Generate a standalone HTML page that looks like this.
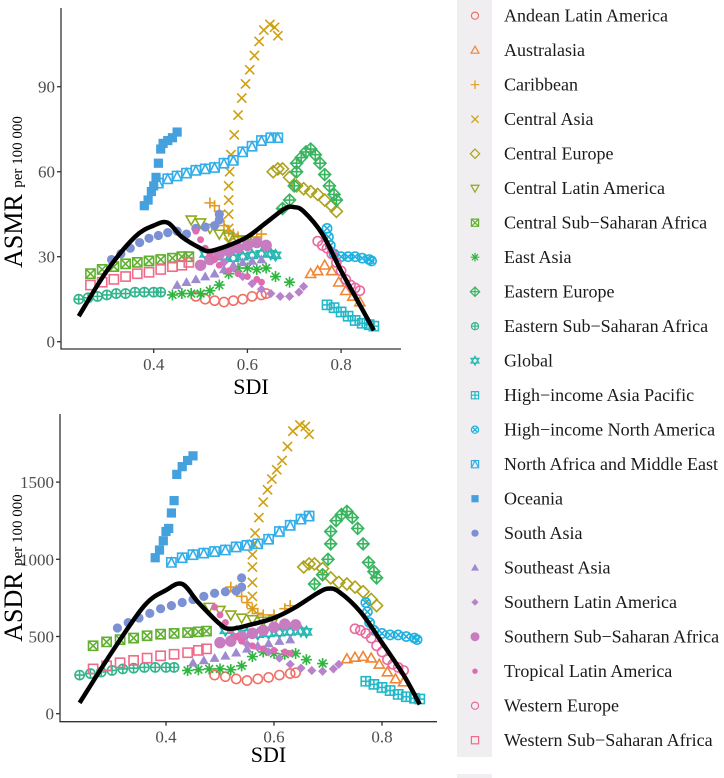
<!DOCTYPE html>
<html><head><meta charset="utf-8">
<style>
html,body{margin:0;padding:0;background:#fff;}
svg{display:block;font-family:"Liberation Serif",serif;}
</style></head>
<body>
<svg id="chart" width="724" height="778" viewBox="0 0 724 778" xmlns="http://www.w3.org/2000/svg"></svg>
<script>
const regions = ["Andean Latin America","Australasia","Caribbean","Central Asia","Central Europe","Central Latin America","Central Sub\u2212Saharan Africa","East Asia","Eastern Europe","Eastern Sub\u2212Saharan Africa","Global","High\u2212income Asia Pacific","High\u2212income North America","North Africa and Middle East","Oceania","South Asia","Southeast Asia","Southern Latin America","Southern Sub\u2212Saharan Africa","Tropical Latin America","Western Europe","Western Sub\u2212Saharan Africa"];
const colors = ["#F07068","#F08535","#E09B22","#CFA012","#ADA21A","#8FAA1E","#62B031","#2FB540","#39B560","#30B58C","#28B8B2","#22B8C8","#1FB2E0","#33AEE8","#45A0DE","#7C90D4","#9E8ACF","#B983CB","#C87CC0","#DF6BB0","#EA69A0","#EE6C8A"];
const shapes = [1,2,3,4,5,6,7,8,9,10,11,12,13,14,15,16,17,18,19,20,21,22];

const sdi = [
 [0.49,0.51,0.53,0.55,0.57,0.59,0.61,0.63,0.64],
 [0.735,0.75,0.765,0.78,0.795,0.81,0.825,0.84],
 [0.52,0.53,0.54,0.55,0.56,0.57,0.58,0.6,0.62,0.63],
 [0.56,0.56,0.56,0.56,0.56,0.562,0.565,0.572,0.58,0.588,0.596,0.605,0.615,0.625,0.635,0.648,0.658,0.665],
 [0.655,0.665,0.675,0.69,0.705,0.72,0.735,0.75,0.765,0.78,0.79],
 [0.48,0.5,0.52,0.54,0.56,0.58,0.6],
 [0.265,0.29,0.315,0.34,0.365,0.39,0.415,0.44,0.46,0.475],
 [0.44,0.46,0.48,0.5,0.52,0.54,0.56,0.58,0.6,0.62,0.64,0.66,0.69],
 [0.675,0.69,0.7,0.705,0.705,0.715,0.725,0.735,0.745,0.755,0.765,0.775,0.785,0.79],
 [0.24,0.26,0.28,0.3,0.32,0.34,0.36,0.38,0.4,0.415],
 [0.51,0.53,0.55,0.57,0.59,0.61,0.63,0.65,0.66],
 [0.77,0.785,0.8,0.815,0.83,0.845,0.86,0.87],
 [0.77,0.773,0.777,0.785,0.8,0.815,0.83,0.845,0.86,0.865],
 [0.41,0.43,0.45,0.47,0.49,0.51,0.53,0.55,0.57,0.59,0.61,0.63,0.65,0.665],
 [0.38,0.388,0.395,0.4,0.405,0.41,0.415,0.42,0.43,0.44,0.45],
 [0.31,0.33,0.35,0.37,0.39,0.41,0.43,0.45,0.47,0.49,0.51,0.53,0.54,0.54],
 [0.45,0.47,0.49,0.51,0.53,0.55,0.57,0.59,0.61,0.63],
 [0.55,0.57,0.59,0.61,0.63,0.65,0.67,0.69,0.71,0.72],
 [0.5,0.52,0.54,0.56,0.58,0.6,0.62,0.64],
 [0.49,0.5,0.51,0.52,0.53,0.54,0.56,0.58,0.6,0.62,0.63],
 [0.75,0.76,0.77,0.78,0.79,0.8,0.81,0.82,0.83,0.84],
 [0.265,0.29,0.315,0.34,0.365,0.39,0.415,0.44,0.46,0.475]
];
const asmr = [
 [16,15,14.5,14,14.5,15,16,16.5,17],
 [24,25,27,25,21,18,16,14],
 [49,48,46,41,39,38,37,36,37,38],
 [35,40,45,50,55,60,66,73,80,86,91,96,101,106,110,112,111,108],
 [60,61,61,58,55,54,53,52,50,48,46],
 [43,42,40,38,37,36,36],
 [24,25.5,26.5,27.5,28,28.5,29,29.5,30,30],
 [16.5,17,17,17,18,20,24,26,26,25.5,26,23,21],
 [47,50,55,60,63,65,67,68,66,63,59,55,52,50],
 [15,15.5,16,16.5,17,17,17.5,17.5,17.5,17.5],
 [31,30.5,30,29.5,30,30.5,31,31,30.5],
 [13,12,10.5,9,7.5,6.5,6,5.5],
 [40,37,34,31,30,30,30,29.5,29,28.5],
 [56,57.5,58.5,59.5,60.5,61,61.5,63,64,67,69,71,72,72],
 [48,50,53,55,58,63,68,70,71,72,74],
 [29,31,33,35,36.5,37.5,38.5,39,38,40,40.5,41,43,45],
 [20,21,22,23,24,25.5,27,28,28.5,29],
 [28,26,23,20.5,18.5,17,16,16,17.5,19.5],
 [27,29,31,32,33,34,35,34],
 [39,36,33,31,29,27,25,24,23,22,21],
 [35.5,34,33,31,28,25,22,20,19,18],
 [20,21,22,23,24,24.5,25.5,26.5,27,28]
];
const asdr = [
 [250,240,225,215,225,235,250,260,265],
 [355,365,370,360,320,270,225,205],
 [820,800,760,720,680,650,640,640,680,700],
 [680,760,850,950,1030,1100,1170,1270,1370,1450,1520,1580,1640,1730,1830,1870,1860,1810],
 [950,970,970,940,880,850,840,820,790,740,700],
 [690,670,640,620,610,600,610],
 [440,465,480,490,505,515,520,525,530,535],
 [280,285,290,290,285,310,370,400,390,385,390,350,325],
 [840,900,1000,1100,1180,1250,1290,1310,1270,1200,1100,980,920,880],
 [250,260,270,280,290,295,300,300,300,300],
 [540,530,520,515,520,525,530,535,530],
 [210,190,170,150,125,110,100,95],
 [720,660,590,540,520,510,510,500,490,480],
 [980,1010,1030,1040,1050,1060,1080,1090,1100,1130,1180,1220,1260,1280],
 [1010,1060,1120,1180,1200,1300,1380,1550,1600,1640,1670],
 [555,590,620,650,680,700,720,740,760,780,790,795,820,880],
 [330,345,360,375,395,420,440,455,470,480],
 [450,430,400,360,320,295,280,275,290,320],
 [460,470,500,520,540,560,580,575],
 [690,640,590,540,500,470,440,420,410,400,390],
 [550,540,520,490,440,400,350,320,300,280],
 [290,310,330,345,360,375,385,395,410,420]
];
const fitSdi = [0.24,0.3,0.36,0.4,0.43,0.46,0.5,0.52,0.56,0.6,0.64,0.68,0.7,0.72,0.76,0.8,0.84,0.87];
const fitAsmr = [9,25,37,41,42,37,33,32,34,37,42,47,47.5,46,38,25,13,4];
const fitAsdr = [70,400,700,800,840,720,580,550,580,620,690,780,810,790,660,460,250,60];
const xTicks = [0.4,0.6,0.8];
const asmrTicks = [0,30,60,90];
const asdrTicks = [0,500,1000,1500];

const NS = "http://www.w3.org/2000/svg";
const svg = document.getElementById('chart');
function mk(tag, attrs, parent){
  const e = document.createElementNS(NS, tag);
  for (const k in attrs) e.setAttribute(k, attrs[k]);
  (parent||svg).appendChild(e);
  return e;
}

const panels = [
 {name:'asmr', vals:asmr, fit:fitAsmr, ticks:asmrTicks, title:'ASMR',
  x0:153.7, xs:468.5, y0:341.7, ys:2.833, axX:61, axYtop:8, axYbot:349, axXend:401, titleY:192, sdiY:394},
 {name:'asdr', vals:asdr, fit:fitAsdr, ticks:asdrTicks, title:'ASDR',
  x0:166, xs:540, y0:713.7, ys:0.1544, axX:60, axYtop:414, axYbot:721.7, axXend:437, titleY:568, sdiY:762}
];

function drawShape(g, shape, cx, cy, col, r, sw){
  const o = {fill:'none', stroke:col, 'stroke-width':sw};
  let e;
  const tri = (up,fill)=>{
    const h=r*1.1;
    const pts = up ? `${cx},${cy-h} ${cx-h},${cy+h*0.75} ${cx+h},${cy+h*0.75}` : `${cx},${cy+h} ${cx-h},${cy-h*0.75} ${cx+h},${cy-h*0.75}`;
    return mk('polygon', fill?{points:pts,fill:col}:Object.assign({points:pts},o), g);
  };
  switch(shape){
    case 1: case 21: e=mk('circle',Object.assign({cx,cy,r},o),g); break;
    case 2: e=tri(true,false); break;
    case 3: e=mk('path',Object.assign({d:`M${cx-r*1.2},${cy}H${cx+r*1.2}M${cx},${cy-r*1.2}V${cy+r*1.2}`},o),g); break;
    case 4: e=mk('path',Object.assign({d:`M${cx-r},${cy-r}L${cx+r},${cy+r}M${cx-r},${cy+r}L${cx+r},${cy-r}`},o),g); break;
    case 5: e=mk('polygon',Object.assign({points:`${cx},${cy-r*1.3} ${cx+r*1.3},${cy} ${cx},${cy+r*1.3} ${cx-r*1.3},${cy}`},o),g); break;
    case 6: e=tri(false,false); break;
    case 7: e=mk('path',Object.assign({d:`M${cx-r},${cy-r}h${2*r}v${2*r}h${-2*r}zM${cx-r},${cy-r}L${cx+r},${cy+r}M${cx-r},${cy+r}L${cx+r},${cy-r}`},o),g); break;
    case 8: e=mk('path',Object.assign({d:`M${cx-r*1.2},${cy}H${cx+r*1.2}M${cx},${cy-r*1.2}V${cy+r*1.2}M${cx-r*.85},${cy-r*.85}L${cx+r*.85},${cy+r*.85}M${cx-r*.85},${cy+r*.85}L${cx+r*.85},${cy-r*.85}`},o),g); break;
    case 9: e=mk('path',Object.assign({d:`M${cx},${cy-r*1.3}L${cx+r*1.3},${cy}L${cx},${cy+r*1.3}L${cx-r*1.3},${cy}zM${cx-r*1.3},${cy}H${cx+r*1.3}M${cx},${cy-r*1.3}V${cy+r*1.3}`},o),g); break;
    case 10: e=mk('path',Object.assign({d:`M${cx-r},${cy}a${r},${r} 0 1,0 ${2*r},0a${r},${r} 0 1,0 ${-2*r},0M${cx-r},${cy}H${cx+r}M${cx},${cy-r}V${cy+r}`},o),g); break;
    case 11: { const h=r*1.1; e=mk('path',Object.assign({d:`M${cx},${cy-h*1.1}L${cx+h},${cy+h*0.6}L${cx-h},${cy+h*0.6}zM${cx},${cy+h*1.1}L${cx+h},${cy-h*0.6}L${cx-h},${cy-h*0.6}z`},o),g); break; }
    case 12: e=mk('path',Object.assign({d:`M${cx-r},${cy-r}h${2*r}v${2*r}h${-2*r}zM${cx-r},${cy}H${cx+r}M${cx},${cy-r}V${cy+r}`},o),g); break;
    case 13: e=mk('path',Object.assign({d:`M${cx-r},${cy}a${r},${r} 0 1,0 ${2*r},0a${r},${r} 0 1,0 ${-2*r},0M${cx-r*.7},${cy-r*.7}L${cx+r*.7},${cy+r*.7}M${cx-r*.7},${cy+r*.7}L${cx+r*.7},${cy-r*.7}`},o),g); break;
    case 14: e=mk('path',Object.assign({d:`M${cx-r},${cy-r}h${2*r}v${2*r}h${-2*r}zM${cx-r},${cy+r}L${cx},${cy-r}L${cx+r},${cy+r}`},o),g); break;
    case 15: e=mk('rect',{x:cx-r,y:cy-r,width:2*r,height:2*r,fill:col},g); break;
    case 16: e=mk('circle',{cx,cy,r:r,fill:col},g); break;
    case 17: e=tri(true,true); break;
    case 18: e=mk('polygon',{points:`${cx},${cy-r} ${cx+r},${cy} ${cx},${cy+r} ${cx-r},${cy}`,fill:col},g); break;
    case 19: e=mk('circle',{cx,cy,r:r*1.25,fill:col},g); break;
    case 20: e=mk('circle',{cx,cy,r:r*0.75,fill:col},g); break;
    case 22: e=mk('rect',Object.assign({x:cx-r,y:cy-r,width:2*r,height:2*r},o),g); break;
  }
  return e;
}

function smoothPath(pts){
  let d = `M${pts[0][0]},${pts[0][1]}`;
  for (let i=0;i<pts.length-1;i++){
    const p0=pts[Math.max(0,i-1)], p1=pts[i], p2=pts[i+1], p3=pts[Math.min(pts.length-1,i+2)];
    const c1=[p1[0]+(p2[0]-p0[0])/6, p1[1]+(p2[1]-p0[1])/6];
    const c2=[p2[0]-(p3[0]-p1[0])/6, p2[1]-(p3[1]-p1[1])/6];
    d += `C${c1[0]},${c1[1]} ${c2[0]},${c2[1]} ${p2[0]},${p2[1]}`;
  }
  return d;
}

panels.forEach(p=>{
  const X = s => p.x0 + (s-0.4)*p.xs;
  const Y = v => p.y0 - v*p.ys;
  const g = mk('g',{});
  
  
  const ax = mk('path',{d:`M${p.axX},${p.axYtop}V${p.axYbot}H${p.axXend}`,stroke:'#333',fill:'none','stroke-width':1.3},g);
  
  
  p.ticks.forEach(t=>{
    mk('line',{x1:p.axX-4,x2:p.axX,y1:Y(t),y2:Y(t),stroke:'#333','stroke-width':1.3},g);
    const tl = mk('text',{x:p.axX-6,y:Y(t)+6,'text-anchor':'end','font-size':17,fill:'#4d4d4d'},g);
    tl.textContent = t;
    
    
  });
  xTicks.forEach(t=>{
    mk('line',{x1:X(t),x2:X(t),y1:p.axYbot,y2:p.axYbot+4,stroke:'#333','stroke-width':1.3},g);
    const tl = mk('text',{x:X(t),y:p.axYbot+21,'text-anchor':'middle','font-size':17,fill:'#4d4d4d'},g);
    tl.textContent = t;
    
    
  });
  const xt = mk('text',{x:(p.axX+p.axXend)/2+20,y:p.sdiY,'text-anchor':'middle','font-size':22,fill:'#000'},g);
  xt.textContent = 'SDI';
  
  
  const yt = mk('text',{transform:`translate(22,${p.titleY}) rotate(-90)`,'text-anchor':'middle','font-size':26,fill:'#000'},g);
  
  
  const ts1 = mk('tspan',{},yt); ts1.textContent = p.title+' ';
  const ts2 = mk('tspan',{'font-size':15},yt); ts2.textContent = 'per 100 000';
  regions.forEach((r,i)=>{
    const sg = mk('g',{},g);
    
    
    sdi[i].forEach((s,j)=>{
      const m = drawShape(sg, shapes[i], X(s), Y(p.vals[i][j]), colors[i], 4.6, 1.6);
      
      
    });
  });
  const fit = mk('path',{d:smoothPath(fitSdi.map((s,k)=>[X(s),Y(p.fit[k])])),stroke:'#000','stroke-width':4.5,fill:'none','stroke-linejoin':'round'},g);
  
  
});

const lg = mk('g',{});


mk('rect',{x:457,y:0,width:35,height:757,fill:'#f0eef0'},lg);
mk('rect',{x:457,y:774,width:35,height:4,fill:'#f0eef0'},lg);
regions.forEach((r,i)=>{
  const y = 15.7 + i*34.5;
  const eg = mk('g',{},lg);
  
  
  drawShape(eg, shapes[i], 475, y, colors[i], 3.6, 1.2);
  const t = mk('text',{x:504,y:y+6,'font-size':18,fill:'#1a1a1a'},eg);
  t.textContent = r;
});
</script>
</body></html>
